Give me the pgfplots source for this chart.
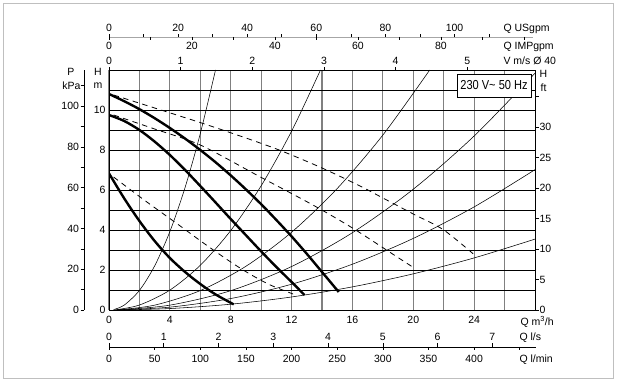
\documentclass[border=0pt]{standalone}
\usepackage{fontspec}
\setmainfont{Liberation Sans}
\newfontfamily\boxfont[FakeStretch=0.85]{Liberation Sans}
\usepackage{pgfplots}
\pgfplotsset{compat=1.18}
\begin{document}
\begin{tikzpicture}[font=\fontsize{10.5}{12}\selectfont]
\useasboundingbox (0,0) rectangle (618pt,382pt);
\draw[black!25, line width=1.5pt] (3.5pt,3.5pt) rectangle (613.5pt,378.5pt);

\begin{axis}[
  at={(109pt,72pt)}, anchor=south west,
  scale only axis, width=426pt, height=240pt,
  xmin=0, xmax=28, ymin=0, ymax=12,
  xtick={0,4,...,24}, minor xtick={2,6,...,26},
  ytick={0,2,...,10}, minor ytick={1,3,...,11},
  grid=both,
  x grid style={black!50, line width=1.1pt},
  y grid style={black, line width=0.7pt},
  major tick length=0pt, minor tick length=0pt,
  axis line style={black, line width=0.8pt},
  /pgf/number format/assume math mode=true,
  ticklabel style={font=\fontsize{10.5}{12}\selectfont},
  xticklabel style={anchor=base, yshift=-14pt},
  clip=true,
]
% thin system curves
\addplot[black, line width=0.55pt, smooth] coordinates {(0.3,0.02) (1,0.245) (2,0.98) (3,2.205) (4,3.92) (5,6.125) (6,8.82) (7,12.0)};
\addplot[black, line width=0.55pt, smooth] coordinates {(0.4,0.01) (2,0.248) (4,0.994) (6,2.236) (8,3.974) (10,6.21) (12,8.94) (13.9,12.0)};
\addplot[black, line width=0.55pt, smooth] coordinates {(0.5,0.007) (3,0.243) (6,0.972) (9,2.187) (12,3.888) (15,6.075) (18,8.748) (21.08,12.0)};
\addplot[black, line width=0.55pt, smooth] coordinates {(0.6,0.005) (4,0.242) (8,0.966) (12,2.174) (16,3.866) (20,6.04) (24,8.70) (28,11.84)};
\addplot[black, line width=0.55pt, smooth] coordinates {(0.6,0.003) (4,0.143) (8,0.573) (12,1.289) (16,2.291) (20,3.58) (24,5.155) (28,7.017)};
\addplot[black, line width=0.55pt, smooth] coordinates {(0.6,0.002) (4,0.072) (8,0.289) (12,0.651) (16,1.157) (20,1.808) (24,2.604) (28,3.544)};
% dashed curves
\addplot[black, line width=0.8pt, dash pattern=on 5.5pt off 4.5pt, smooth] coordinates {(0.3,10.75) (3,10.1) (6,9.37) (9,8.6) (11.35,7.95) (14,7.1) (16.5,6.2) (18,5.6) (20,4.8) (22,4.0) (24.15,2.67)};
\addplot[black, line width=0.8pt, dash pattern=on 5.5pt off 4.5pt, smooth] coordinates {(0.3,9.75) (3,9.05) (6,8.25) (9.9,6.67) (13.4,5.25) (16,4.1) (18.9,2.67) (20.1,2.08)};
\addplot[black, line width=0.8pt, dash pattern=on 5.5pt off 4.5pt, smooth] coordinates {(0.3,6.65) (2.4,5.45) (4.5,4.3) (6.3,3.3) (8,2.4) (9.3,1.78) (10.6,1.25) (12.1,0.8)};
% thick pump curves
\addplot[black, line width=2.4pt, smooth] coordinates {(0,10.8) (1,10.44) (2,10.04) (3,9.59) (4,9.10) (5,8.57) (6,8.00) (7,7.39) (8,6.73) (9,6.03) (10,5.29) (11,4.50) (12,3.68) (13,2.81) (14,1.90) (15.1,0.9)};
\addplot[black, line width=2.4pt, smooth] coordinates {(0,9.75) (1,9.45) (2,9.0) (3,8.42) (4,7.75) (5,7.0) (6,6.2) (7,5.38) (8,4.55) (9,3.74) (10,2.93) (11,2.15) (12,1.4) (12.85,0.75)};
\addplot[black, line width=2.4pt, smooth] coordinates {(0,6.83) (1,5.58) (2,4.45) (3,3.45) (4,2.6) (5,1.9) (6,1.3) (7,0.78) (8.2,0.28)};
\end{axis}

% right ft axis
\begin{axis}[
  at={(109pt,72pt)}, anchor=south west,
  scale only axis, width=426pt, height=240pt,
  xmin=0, xmax=28, ymin=0, ymax=39.3701,
  axis x line=none, axis y line*=right,
  y axis line style={draw=none},
  ytick={0,5,...,35}, yticklabels={0,5,10,15,20,25,30,{}},
  tick align=outside, major tick length=3.5pt,
  tick style={black, line width=0.6pt},
  /pgf/number format/assume math mode=true,
  ticklabel style={font=\fontsize{10.5}{12}\selectfont},
  yticklabel style={xshift=-2.5pt},
]
\end{axis}

% left kPa axis
\begin{axis}[
  at={(84pt,72pt)}, anchor=south west,
  scale only axis, width=10pt, height=240pt,
  xmin=0, xmax=1, ymin=0, ymax=117.68,
  axis x line=none, axis y line*=left,
  y axis line style={black, line width=0.6pt},
  ytick={0,20,...,100}, minor ytick={10,30,...,110},
  tick align=outside, major tick length=3.5pt, minor tick length=3.5pt,
  tick style={black, line width=0.6pt},
  /pgf/number format/assume math mode=true,
  ticklabel style={font=\fontsize{10.5}{12}\selectfont},
  yticklabel style={xshift=2pt},
]
\end{axis}

\begin{scope}[x=1pt,y=1pt]
% legend box
\node[draw=black, line width=0.7pt, fill=white, minimum width=74pt, minimum height=23pt, inner sep=0pt, font=\boxfont\fontsize{13}{15}\selectfont] at (494,296.5) {230 V\char"007E\ 50 Hz};
% axis titles
\node at (71,310.3) {P};
\node at (71.5,296) {kPa};
\node at (98,310.3) {H};
\node at (98,296) {m};
\node at (543.5,308.5) {H};
\node at (543.5,294.7) {ft};
% bottom scales
\draw[line width=0.7pt] (109,35) -- (536,35);
\foreach \v in {0,...,7} {
  \draw[line width=0.6pt] ({109+54.7714*\v},35) -- ++(0,3.5);
  \node[anchor=base] at ({109+54.7714*\v},41.5) {\v};
}
\foreach \v in {0,50,...,450} {
  \draw[line width=0.6pt] ({109+0.912857*\v},35) -- ++(0,-3.5);
}
\foreach \v in {0,50,...,400} {
  \node[anchor=base] at ({109+0.912857*\v},19.4) {\v};
}
\node[anchor=base west] at (517,56.8) {Q m\textsuperscript{3}/h};
\node[anchor=base west] at (516,41.5) {Q l/s};
\node[anchor=base west] at (516,19.4) {Q l/min};
% top scales
\draw[black!35, line width=0.7pt] (109,345) -- (533,345);
\foreach \v in {0,10,...,110} {
  \draw[line width=0.6pt] ({109+3.45554*\v},345) -- ++(0,3);
}
\foreach \v in {0,20,...,100} {
  \node[anchor=base] at ({109+3.45554*\v},350.4) {\v};
}
\foreach \v in {0,10,...,100} {
  \draw[line width=0.6pt] ({109+4.14992*\v},345) -- ++(0,-3);
}
\foreach \v in {0,20,...,80} {
  \node[anchor=base] at ({109+4.14992*\v},332.4) {\v};
}
\foreach \v in {0,...,5} {
  \draw[line width=0.6pt] ({109+71.66*\v},312) -- ++(0,3);
  \node[anchor=base] at ({109+71.66*\v},317.4) {\v};
}
\node[anchor=base west] at (500,350.4) {Q USgpm};
\node[anchor=base west] at (500,332.4) {Q IMPgpm};
\node[anchor=base west] at (500,317.4) {V m/s Ø 40};
\end{scope}
\end{tikzpicture}
\end{document}
